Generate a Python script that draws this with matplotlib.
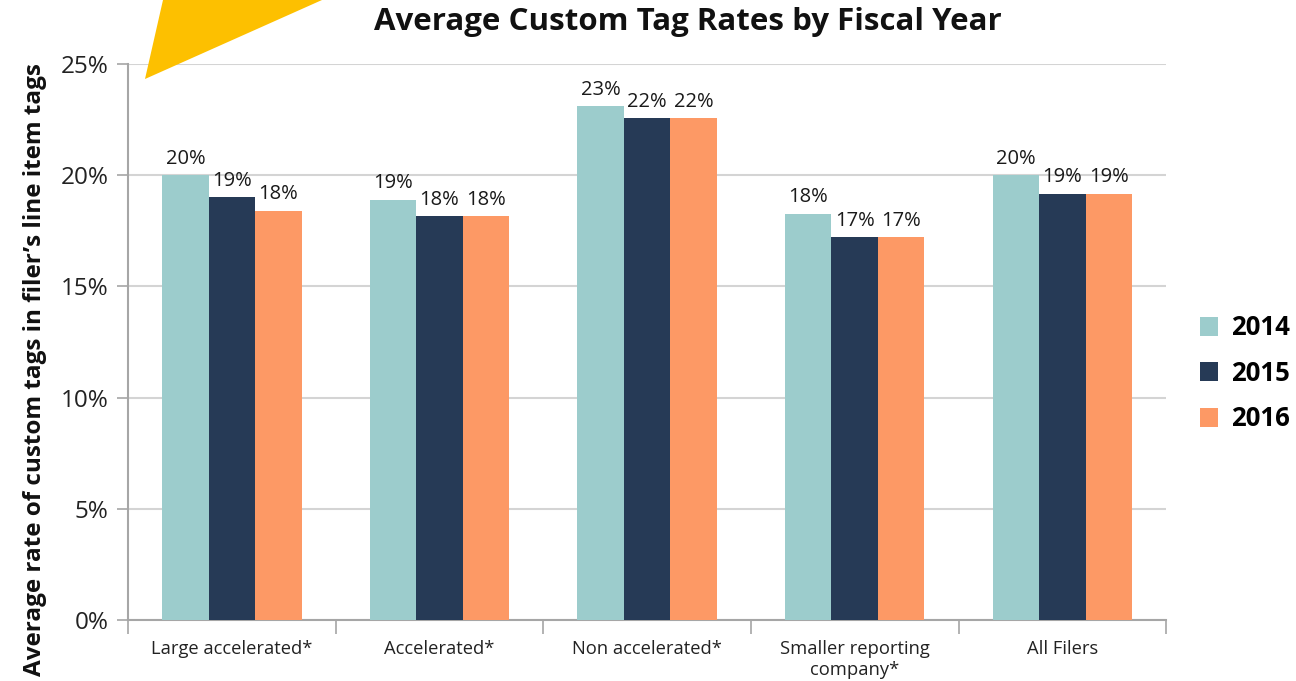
import matplotlib.pyplot as plt
from matplotlib.patches import Polygon
import numpy as np

plt.rcParams['font.family'] = ['Open Sans', 'DejaVu Sans']

# Data
categories = ['Large accelerated*', 'Accelerated*', 'Non accelerated*',
              'Smaller reporting\ncompany*', 'All Filers']
years = ['2014', '2015', '2016']
rate_2014 = [20.0, 18.9, 23.1, 18.25, 20.0]
rate_2015 = [19.0, 18.15, 22.55, 17.2, 19.15]
rate_2016 = [18.4, 18.15, 22.55, 17.2, 19.15]
labels_2014 = ['20%', '19%', '23%', '18%', '20%']
labels_2015 = ['19%', '18%', '22%', '17%', '19%']
labels_2016 = ['18%', '18%', '22%', '17%', '19%']
colors = ['#9CCCCC', '#263A56', '#FD9965']

fig = plt.figure(figsize=(12.96, 6.81), dpi=100)
ax = fig.add_axes([0.0988, 0.0896, 0.801, 0.8164])

x = np.arange(len(categories))
w = 0.224
series = [rate_2014, rate_2015, rate_2016]
labels = [labels_2014, labels_2015, labels_2016]
for i, (vals, labs) in enumerate(zip(series, labels)):
    bars = ax.bar(x + (i - 1) * w, vals, w, color=colors[i], label=years[i], zorder=3)
    for b, lab in zip(bars, labs):
        ax.text(b.get_x() + b.get_width() / 2, b.get_height() + 0.3, lab,
                ha='center', va='bottom', fontsize=14.5, color='#1a1a1a')

ax.set_xlim(-0.5, len(categories) - 0.5)
ax.set_ylim(0, 25)
ax.set_yticks(np.arange(0, 26, 5))
ax.set_yticklabels([f'{v}%' for v in range(0, 26, 5)], fontsize=17.5, color='#222222')
ax.yaxis.grid(True, color='#D4D4D4', linewidth=1.5, zorder=0)
ax.tick_params(axis='y', length=8, color='#A6A6A6', width=1.2, pad=6)

# category labels between group ticks
ax.set_xticks(np.arange(-0.5, len(categories), 1.0))
ax.set_xticklabels([])
ax.tick_params(axis='x', length=10, color='#A6A6A6', width=1.2)
for xi, c in zip(x, categories):
    ax.text(xi, -0.9, c, ha='center', va='top', fontsize=13.2, color='#222222',
            linespacing=1.25)

for s in ['top', 'right']:
    ax.spines[s].set_visible(False)
for s in ['left', 'bottom']:
    ax.spines[s].set_color('#A6A6A6')
    ax.spines[s].set_linewidth(1.5)

ax.set_ylabel("Average rate of custom tags in filer\u2019s line item tags",
              fontsize=17.5, fontweight='bold', color='#111111')
ax.yaxis.set_label_coords(-0.078, 0.45)

fig.text(0.5305, 0.968, 'Average Custom Tag Rates by Fiscal Year', ha='center',
         va='center', fontsize=22.5, fontweight='bold', color='#111111')

handles, leg_labels = ax.get_legend_handles_labels()
leg = fig.legend(handles, leg_labels, loc='center left', bbox_to_anchor=(0.918, 0.452),
                 frameon=False, prop={'weight': 'bold', 'size': 18.5},
                 handlelength=0.7, handleheight=0.75, labelspacing=0.72,
                 handletextpad=0.5, borderaxespad=0.0)

# yellow decorative triangle in the top-left corner
fig.patches.append(Polygon([(163 / 1296, 1.0), (322 / 1296, 1.0), (145 / 1296, 1 - 79 / 681)],
                           closed=True, transform=fig.transFigure, facecolor='#FDC000',
                           edgecolor='none', zorder=5))

fig.savefig('out.png', dpi=100)
